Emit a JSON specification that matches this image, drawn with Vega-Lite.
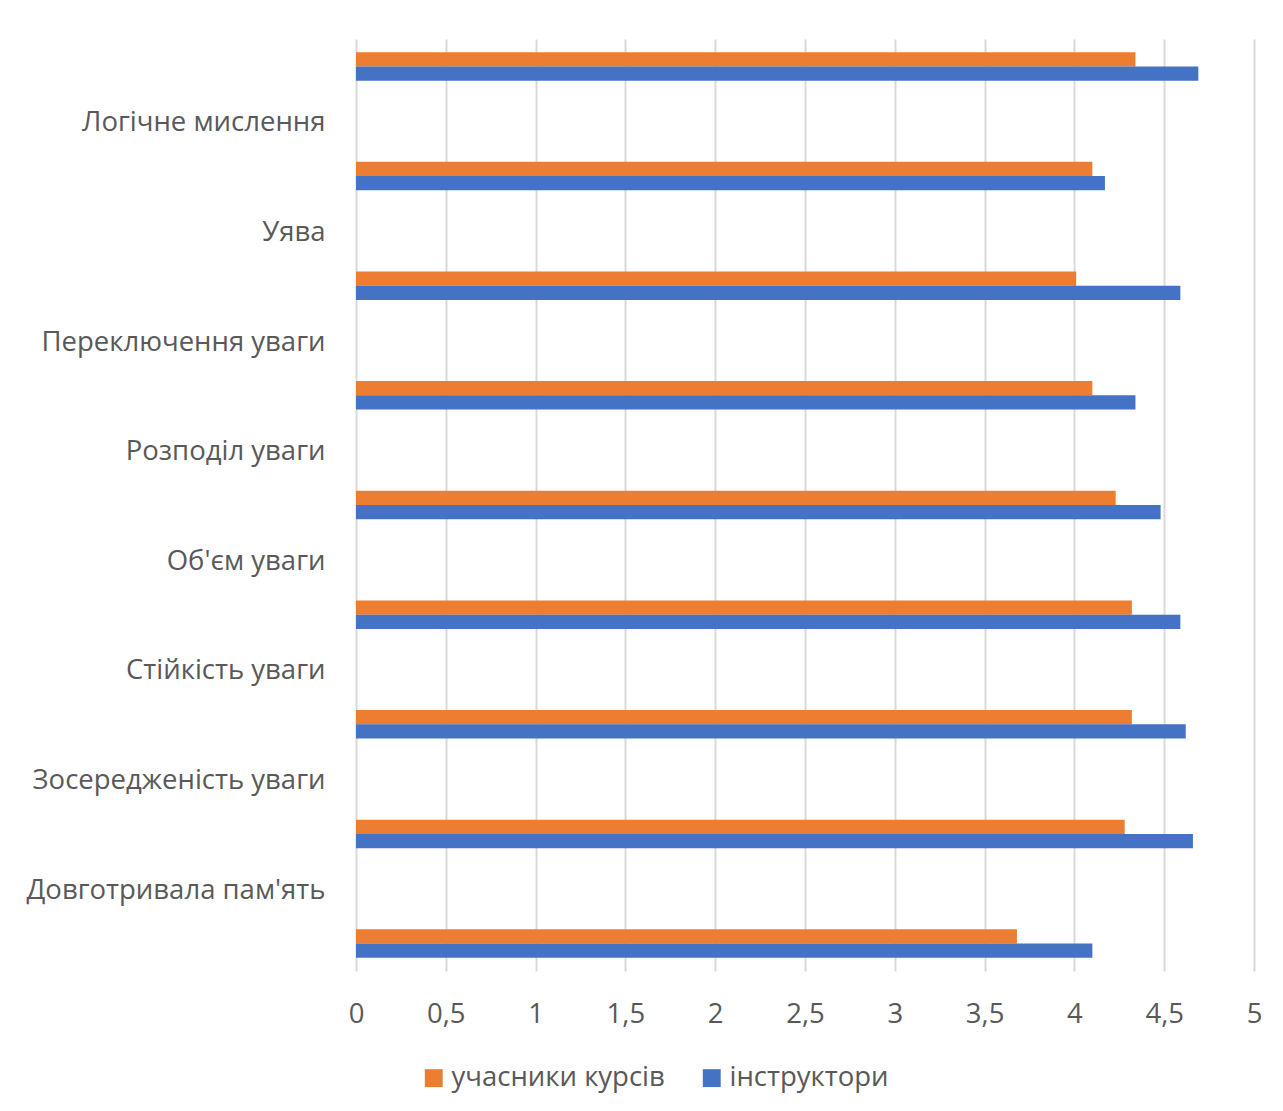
{
  "$schema": "https://vega.github.io/schema/vega-lite/v6.json",
  "autosize": {"type": "none"},
  "width": 898,
  "height": 932,
  "padding": {"left": 356, "top": 39, "right": 29, "bottom": 140},
  "background": "white",
  "config": {"font": "Open Sans", "view": {"stroke": null}},
  "data": {
    "values": [
      {"row": "g1", "series": "учасники курсів", "value": 4.34},
      {"row": "g1", "series": "інструктори", "value": 4.69},
      {"row": "g2", "series": "учасники курсів", "value": 4.10},
      {"row": "g2", "series": "інструктори", "value": 4.17},
      {"row": "g3", "series": "учасники курсів", "value": 4.01},
      {"row": "g3", "series": "інструктори", "value": 4.59},
      {"row": "g4", "series": "учасники курсів", "value": 4.10},
      {"row": "g4", "series": "інструктори", "value": 4.34},
      {"row": "g5", "series": "учасники курсів", "value": 4.23},
      {"row": "g5", "series": "інструктори", "value": 4.48},
      {"row": "g6", "series": "учасники курсів", "value": 4.32},
      {"row": "g6", "series": "інструктори", "value": 4.59},
      {"row": "g7", "series": "учасники курсів", "value": 4.32},
      {"row": "g7", "series": "інструктори", "value": 4.62},
      {"row": "g8", "series": "учасники курсів", "value": 4.28},
      {"row": "g8", "series": "інструктори", "value": 4.66},
      {"row": "g9", "series": "учасники курсів", "value": 3.68},
      {"row": "g9", "series": "інструктори", "value": 4.10}
    ]
  },
  "mark": {"type": "bar"},
  "encoding": {
    "y": {
      "field": "row",
      "type": "nominal",
      "scale": {
        "domain": ["g1", "Логічне мислення", "g2", "Уява", "g3", "Переключення уваги", "g4", "Розподіл уваги", "g5", "Об'єм уваги", "g6", "Стійкість уваги", "g7", "Зосередженість уваги", "g8", "Довготривала пам'ять", "g9"],
        "paddingInner": 0.48,
        "paddingOuter": 0.24
      },
      "axis": {
        "title": null,
        "domain": false,
        "ticks": false,
        "tickSize": 0,
        "grid": false,
        "labelExpr": "length(datum.value) <= 2 ? '' : datum.label",
        "labelFontSize": 27.5,
        "labelColor": "#595959",
        "labelPadding": 31,
        "labelOffset": 2,
        "labelLimit": 400
      }
    },
    "yOffset": {
      "field": "series",
      "type": "nominal",
      "scale": {"domain": ["учасники курсів", "інструктори"], "paddingInner": 0, "paddingOuter": 0}
    },
    "x": {
      "field": "value",
      "type": "quantitative",
      "scale": {"domain": [0, 5], "nice": false},
      "axis": {
        "title": null,
        "values": [0, 0.5, 1, 1.5, 2, 2.5, 3, 3.5, 4, 4.5, 5],
        "labelExpr": "replace(toString(datum.value), '.', ',')",
        "grid": true,
        "gridColor": "#d9d9d9",
        "gridWidth": 2,
        "domain": false,
        "ticks": false,
        "tickSize": 0,
        "labelFlush": false,
        "labelOverlap": false,
        "labelFontSize": 27.5,
        "labelColor": "#595959",
        "labelPadding": 29
      }
    },
    "color": {
      "field": "series",
      "type": "nominal",
      "scale": {"domain": ["учасники курсів", "інструктори"], "range": ["#ED7D31", "#4472C4"]},
      "legend": {
        "title": null,
        "orient": "none",
        "legendX": 64,
        "legendY": 1025,
        "direction": "horizontal",
        "symbolType": "square",
        "symbolSize": 320,
        "symbolStrokeWidth": 0,
        "symbolOpacity": 1,
        "labelFontSize": 27.5,
        "labelColor": "#595959",
        "labelOffset": 4,
        "labelLimit": 400,
        "columnPadding": 33
      }
    }
  }
}
